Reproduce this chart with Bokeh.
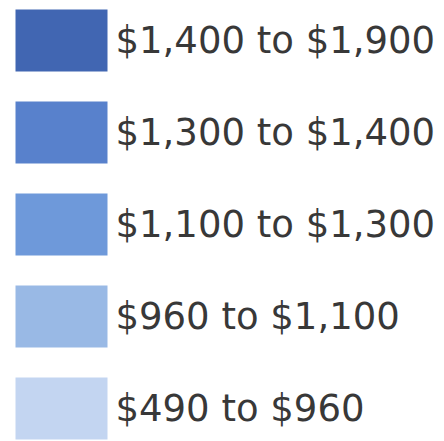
from bokeh.plotting import figure
from bokeh.models import Range1d, ColumnDataSource
from bokeh.core.properties import value
from bokeh.embed import file_html
from bokeh.resources import INLINE

labels = ["$1,400 to $1,900", "$1,300 to $1,400", "$1,100 to $1,300",
          "$960 to $1,100", "$490 to $960"]
colors = ["#4166B2", "#5881CC", "#6E99DA", "#99B9E5", "#C3D5F1"]

W, H = 444, 441
p = figure(width=W, height=H, output_backend="svg", toolbar_location=None,
           x_range=Range1d(0, W), y_range=Range1d(H, 0),
           min_border=0, outline_line_color=None)
p.axis.visible = False
p.grid.visible = False
p.background_fill_color = "white"
p.border_fill_color = "white"

row_gap, sw_w, sw_h = 92, 92, 62
x0, y0 = 15, 9
n = len(labels)
src = ColumnDataSource(dict(
    x=[x0 + sw_w / 2] * n,
    y=[y0 + sw_h / 2 + i * row_gap for i in range(n)],
    tx=[x0 + sw_w + 8] * n,
    label=labels,
    color=colors,
))
p.rect(x="x", y="y", width=sw_w, height=sw_h, fill_color="color",
       line_color=None, source=src)
p.text(x="tx", y="y", text="label", text_font=value("DejaVu Sans"),
       text_font_size="37px", text_color="#383838", text_baseline="middle",
       text_align="left", source=src)

open("out.html", "w").write(file_html(p, INLINE))
